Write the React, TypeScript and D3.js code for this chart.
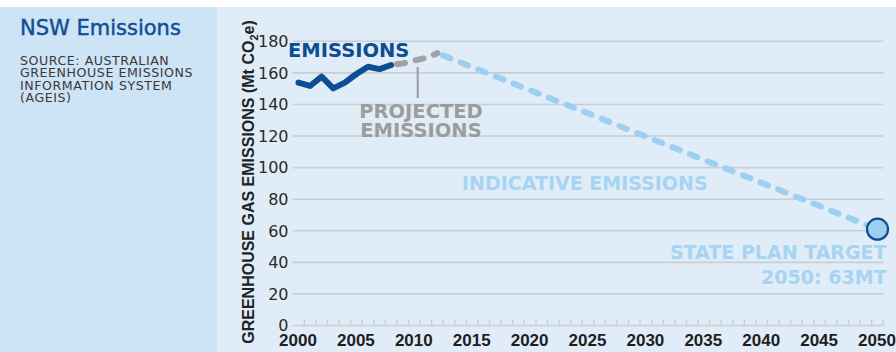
import React from "react";
import * as d3 from "d3";

const W = 896;
const H = 352;

const emissionYears = [2000, 2001, 2002, 2003, 2004, 2005, 2006, 2007, 2008];
const emissionValues = [153.8, 151.7, 157.6, 150.2, 153.8, 159.3, 163.9, 162.4, 165];

const projectedYears = [2008, 2009, 2010, 2011, 2012];
const projectedValues = [165, 166, 167.8, 169.5, 172.5];

const indicativeYears = [2012, 2050];
const indicativeValues = [172.5, 61];

const yTicks = [0, 20, 40, 60, 80, 100, 120, 140, 160, 180];
const xTickLabels = [2000, 2005, 2010, 2015, 2020, 2025, 2030, 2035, 2040, 2045, 2050];
const minorYears = d3.range(2000, 2051);

const sourceLines = [
  "SOURCE: AUSTRALIAN",
  "GREENHOUSE EMISSIONS",
  "INFORMATION SYSTEM",
  "(AGEIS)",
];

const DARK = "#0c4d93";
const GRAY = "#a2a2a2";
const LIGHT = "#9dcfee";
const LIGHT_TEXT = "#a6d4f2";
const GRID = "#c9ced4";
const DEJAVU = "'DejaVu Sans', sans-serif";
const LIB = "'Liberation Sans', Arial, sans-serif";

export default function App() {
  const x = d3.scaleLinear().domain([1999.5, 2050.5]).range([292.7, 883.3]);
  const y = d3.scaleLinear().domain([0, 180]).range([325.5, 41.3]);

  const line = d3
    .line<[number, number]>()
    .x((d) => x(d[0]))
    .y((d) => y(d[1]));

  const emPts = emissionYears.map((yr, i) => [yr, emissionValues[i]] as [number, number]);
  const prPts = projectedYears.map((yr, i) => [yr, projectedValues[i]] as [number, number]);
  const inPts = indicativeYears.map((yr, i) => [yr, indicativeValues[i]] as [number, number]);

  const [x0, x1] = x.range();
  const target = inPts[inPts.length - 1];

  return (
    <svg
      width={W}
      height={H}
      style={{ position: "fixed", left: 0, top: 0, display: "block" }}
    >
      <rect x={0} y={0} width={W} height={H} fill="#ffffff" />
      <rect x={0} y={7} width={217} height={H - 7} fill="#cde3f6" />
      <rect x={217} y={7} width={W - 217} height={H - 7} fill="#e0edf8" />

      {/* Left panel text */}
      <text
        x={20}
        y={35}
        fontFamily={DEJAVU}
        fontSize={21}
        fill="#0e4f94"
        stroke="#0e4f94"
        strokeWidth={0.45}
      >
        NSW Emissions
      </text>
      {sourceLines.map((s, i) => (
        <text
          key={s}
          x={20}
          y={65 + i * 12.4}
          fontFamily={DEJAVU}
          fontSize={12.6}
          letterSpacing={0.55}
          fill="#3a3a3a"
        >
          {s}
        </text>
      ))}

      {/* Gridlines */}
      {yTicks.map((t) => (
        <line
          key={t}
          x1={x0}
          x2={x1}
          y1={y(t)}
          y2={y(t)}
          stroke={GRID}
          strokeWidth={1.6}
        />
      ))}
      {/* minor ticks on x axis */}
      {minorYears.map((yr) => (
        <line
          key={yr}
          x1={x(yr + 0.5)}
          x2={x(yr + 0.5)}
          y1={y(0)}
          y2={y(0) - 5.5}
          stroke={GRID}
          strokeWidth={1.4}
        />
      ))}

      {/* Y tick labels */}
      {yTicks.map((t) => (
        <text
          key={t}
          x={288.5}
          y={y(t)}
          dy="0.36em"
          textAnchor="end"
          fontFamily={DEJAVU}
          fontSize={16}
          fill="#2a2a2a"
        >
          {t}
        </text>
      ))}

      {/* X tick labels */}
      {xTickLabels.map((t) => (
        <text
          key={t}
          x={x(t) - 0.5}
          y={346}
          textAnchor="middle"
          fontFamily={LIB}
          fontWeight="bold"
          fontSize={17}
          fill="#1e1e1e"
        >
          {t}
        </text>
      ))}

      {/* Y axis title */}
      <text
        transform={`translate(253.5, 182) rotate(-90)`}
        textAnchor="middle"
        fontFamily={LIB}
        fontWeight="bold"
        fontSize={16}
        fill="#222"
      >
        GREENHOUSE GAS EMISSIONS (Mt CO
        <tspan fontSize={11} dy={4}>
          2
        </tspan>
        <tspan dy={-4}>e)</tspan>
      </text>

      {/* Indicative line */}
      <path
        d={line(inPts) || ""}
        fill="none"
        stroke={LIGHT}
        strokeWidth={6}
        strokeLinecap="round"
        strokeDasharray="8 11"
        strokeDashoffset={-6}
      />
      {/* Projected line */}
      <path
        d={line(prPts) || ""}
        fill="none"
        stroke={GRAY}
        strokeWidth={6}
        strokeLinecap="round"
        strokeDasharray="8 11"
        strokeDashoffset={-6}
      />
      {/* Emissions line */}
      <path
        d={line(emPts) || ""}
        fill="none"
        stroke={DARK}
        strokeWidth={6}
        strokeLinejoin="round"
        strokeLinecap="round"
      />

      {/* Target circle */}
      <circle
        cx={x(target[0])}
        cy={y(target[1])}
        r={10.5}
        fill={LIGHT}
        stroke={DARK}
        strokeWidth={2.2}
      />

      {/* Annotations */}
      <text x={288} y={57} fontFamily={DEJAVU} fontWeight="bold" fontSize={19.5} fill={DARK}>
        EMISSIONS
      </text>

      <line x1={417.7} x2={417.7} y1={67} y2={98} stroke="#9a9a9a" strokeWidth={2} />
      <text
        x={421}
        y={118}
        textAnchor="middle"
        fontFamily={DEJAVU}
        fontWeight="bold"
        fontSize={19.5}
        fill="#9c9c9c"
      >
        PROJECTED
      </text>
      <text
        x={421}
        y={137}
        textAnchor="middle"
        fontFamily={DEJAVU}
        fontWeight="bold"
        fontSize={19.5}
        fill="#9c9c9c"
      >
        EMISSIONS
      </text>

      <text x={462} y={190} fontFamily={DEJAVU} fontWeight="bold" fontSize={19} fill={LIGHT_TEXT}>
        INDICATIVE EMISSIONS
      </text>

      <text
        x={886.5}
        y={258.5}
        textAnchor="end"
        fontFamily={DEJAVU}
        fontWeight="bold"
        fontSize={19}
        fill={LIGHT_TEXT}
      >
        STATE PLAN TARGET
      </text>
      <text
        x={886.5}
        y={283.5}
        textAnchor="end"
        fontFamily={DEJAVU}
        fontWeight="bold"
        fontSize={19}
        fill={LIGHT_TEXT}
      >
        2050: 63MT
      </text>
    </svg>
  );
}
